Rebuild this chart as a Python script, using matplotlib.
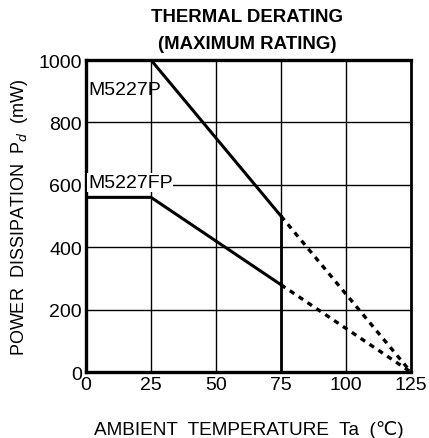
import matplotlib
matplotlib.use("Agg")
import matplotlib.pyplot as plt

plt.rcParams['font.family'] = ['Liberation Sans', 'DejaVu Sans']

# Data
p_temp = [0, 25, 75]
p_power = [1000, 1000, 500]
p_ext_temp = [75, 125]
p_ext_power = [500, 0]

fp_temp = [0, 25, 75]
fp_power = [560, 560, 280]
fp_ext_temp = [75, 125]
fp_ext_power = [280, 0]

x_ticks = [0, 25, 50, 75, 100, 125]
y_ticks = [0, 200, 400, 600, 800, 1000]

fig = plt.figure(figsize=(4.29, 4.39), dpi=100)
ax = fig.add_axes([0.2005, 0.150, 0.7575, 0.711])
ax.set_xlim(0, 125)
ax.set_ylim(0, 1000)

for x in x_ticks[1:-1]:
    ax.axvline(x, color='black', lw=1.0, zorder=1)
for y in y_ticks[1:-1]:
    ax.axhline(y, color='black', lw=1.0, zorder=1)

ax.plot(p_temp, p_power, color='black', lw=2.2, solid_capstyle='butt', zorder=3)
ax.plot([p_temp[-1], p_temp[-1]], [0, p_power[-1]], color='black', lw=2.0, zorder=3)
ax.plot(fp_temp, fp_power, color='black', lw=2.2, zorder=3)
ax.plot(p_ext_temp, p_ext_power, color='black', lw=2.4, linestyle=(0, (1.6, 1.6)), zorder=3)
ax.plot(fp_ext_temp, fp_ext_power, color='black', lw=2.4, linestyle=(0, (1.6, 1.6)), zorder=3)

ax.text(0.8, 906, 'M5227P', fontsize=14, va='center', ha='left', zorder=4)
ax.text(0.8, 607, 'M5227FP', fontsize=14, va='center', ha='left', zorder=4,
        bbox=dict(facecolor='white', edgecolor='none', pad=0.5))

for s in ['left', 'bottom', 'top']:
    ax.spines[s].set_linewidth(2.4)
ax.spines['right'].set_linewidth(2.0)

ax.set_xticks(x_ticks)
ax.set_yticks(y_ticks)
ax.set_xticklabels([str(v) for v in x_ticks], fontsize=14)
ax.set_yticklabels([str(v) for v in y_ticks], fontsize=14)
ax.tick_params(length=0, pad=3)

ax.set_xlabel('AMBIENT  TEMPERATURE  Ta  (\u2103)', fontsize=13.7, labelpad=19)
ax.set_ylabel('POWER  DISSIPATION  P$_d$  (mW)', fontsize=13, labelpad=6)

fig.text(0.576, 0.959, 'THERMAL DERATING', fontsize=13.4, fontweight='bold', ha='center', va='center')
fig.text(0.576, 0.898, '(MAXIMUM RATING)', fontsize=13.4, fontweight='bold', ha='center', va='center')

fig.savefig('out.png', dpi=100)
